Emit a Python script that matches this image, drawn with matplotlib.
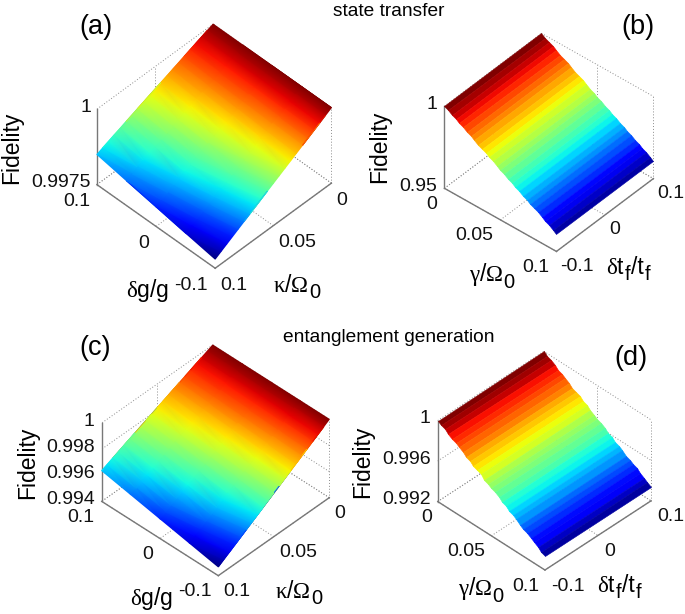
import numpy as np
import matplotlib
matplotlib.use('Agg')
import matplotlib.pyplot as plt
from mpl_toolkits.mplot3d import proj3d

plt.rcParams['font.family'] = ['Liberation Sans', 'DejaVu Sans']
plt.rcParams['mathtext.fontset'] = 'custom'
plt.rcParams['mathtext.rm'] = 'Liberation Serif'
plt.rcParams['mathtext.sf'] = 'Liberation Sans'
plt.rcParams['mathtext.default'] = 'rm'

W, H = 685, 614

################### DATA ###################
# kappa/Omega0 grid of the two smooth surfaces, step 0.005
kappa = [0.000, 0.005, 0.010, 0.015, 0.020, 0.025, 0.030, 0.035, 0.040, 0.045, 0.050,
         0.055, 0.060, 0.065, 0.070, 0.075, 0.080, 0.085, 0.090, 0.095, 0.100]
delta_g = [-0.1, -0.05, 0.0, 0.05, 0.1]

fid_a_1 = [1.00000, 0.99989, 0.99978, 0.99967, 0.99956, 0.99945, 0.99934, 0.99923, 0.99912, 0.99901, 0.99890,
           0.99879, 0.99868, 0.99857, 0.99846, 0.99835, 0.99824, 0.99813, 0.99802, 0.99791, 0.99780]
fid_a_2 = [1.00000, 0.99990, 0.99980, 0.99970, 0.99959, 0.99949, 0.99939, 0.99929, 0.99919, 0.99909, 0.99899,
           0.99888, 0.99878, 0.99868, 0.99858, 0.99848, 0.99838, 0.99827, 0.99817, 0.99807, 0.99797]
fid_a_3 = [1.00000, 0.99991, 0.99982, 0.99972, 0.99963, 0.99954, 0.99945, 0.99935, 0.99926, 0.99917, 0.99908,
           0.99898, 0.99889, 0.99880, 0.99871, 0.99861, 0.99852, 0.99843, 0.99834, 0.99824, 0.99815]
fid_a_4 = [1.00000, 0.99992, 0.99983, 0.99975, 0.99966, 0.99958, 0.99950, 0.99941, 0.99933, 0.99924, 0.99916,
           0.99908, 0.99899, 0.99891, 0.99882, 0.99874, 0.99866, 0.99857, 0.99849, 0.99840, 0.99832]
fid_a_5 = [1.00000, 0.99993, 0.99985, 0.99978, 0.99970, 0.99963, 0.99955, 0.99948, 0.99940, 0.99933, 0.99925,
           0.99918, 0.99910, 0.99903, 0.99895, 0.99888, 0.99880, 0.99873, 0.99865, 0.99858, 0.99850]

fid_c_1 = [1.00000, 0.99973, 0.99947, 0.99920, 0.99893, 0.99867, 0.99840, 0.99813, 0.99787, 0.99760, 0.99734,
           0.99707, 0.99680, 0.99654, 0.99627, 0.99600, 0.99574, 0.99547, 0.99520, 0.99494, 0.99467]
fid_c_2 = [1.00000, 0.99975, 0.99951, 0.99926, 0.99902, 0.99877, 0.99853, 0.99828, 0.99804, 0.99779, 0.99755,
           0.99730, 0.99705, 0.99681, 0.99656, 0.99632, 0.99607, 0.99583, 0.99558, 0.99534, 0.99509]
fid_c_3 = [1.00000, 0.99978, 0.99955, 0.99933, 0.99910, 0.99888, 0.99865, 0.99843, 0.99820, 0.99798, 0.99776,
           0.99753, 0.99731, 0.99708, 0.99686, 0.99663, 0.99641, 0.99618, 0.99596, 0.99573, 0.99551]
fid_c_4 = [1.00000, 0.99980, 0.99959, 0.99939, 0.99919, 0.99898, 0.99878, 0.99858, 0.99837, 0.99817, 0.99797,
           0.99776, 0.99756, 0.99736, 0.99715, 0.99695, 0.99674, 0.99654, 0.99634, 0.99613, 0.99593]
fid_c_5 = [1.00000, 0.99982, 0.99964, 0.99945, 0.99927, 0.99909, 0.99891, 0.99872, 0.99854, 0.99836, 0.99818,
           0.99799, 0.99781, 0.99763, 0.99745, 0.99726, 0.99708, 0.99690, 0.99672, 0.99653, 0.99635]

# gamma/Omega0 grid of the two banded surfaces, 31 points from 0 to 0.1
gamma = [0.0000, 0.0033, 0.0067, 0.0100, 0.0133, 0.0167, 0.0200, 0.0233, 0.0267, 0.0300, 0.0333,
         0.0367, 0.0400, 0.0433, 0.0467, 0.0500, 0.0533, 0.0567, 0.0600, 0.0633, 0.0667,
         0.0700, 0.0733, 0.0767, 0.0800, 0.0833, 0.0867, 0.0900, 0.0933, 0.0967, 0.1000]
delta_t = [-0.1, 0.1]

fid_b = [1.0000, 0.9987, 0.9974, 0.9961, 0.9948, 0.9935, 0.9921, 0.9908, 0.9895, 0.9882, 0.9869,
         0.9856, 0.9843, 0.9830, 0.9817, 0.9804, 0.9790, 0.9777, 0.9764, 0.9751, 0.9738,
         0.9725, 0.9712, 0.9699, 0.9686, 0.9673, 0.9659, 0.9646, 0.9633, 0.9620, 0.9607]
fid_d = [1.0000, 0.9998, 0.9996, 0.9993, 0.9991, 0.9989, 0.9987, 0.9985, 0.9982, 0.9980, 0.9978,
         0.9976, 0.9974, 0.9971, 0.9969, 0.9967, 0.9965, 0.9963, 0.9960, 0.9958, 0.9956,
         0.9954, 0.9952, 0.9949, 0.9947, 0.9945, 0.9943, 0.9941, 0.9938, 0.9936, 0.9934]

# tick values and labels
rate_ticks = [0, 0.05, 0.1]
rate_labels = ['0', '0.05', '0.1']
dev_ticks = [-0.1, 0, 0.1]
dev_labels = ['-0.1', '0', '0.1']

z_ticks_a = [0.9975, 1]
z_labels_a = ['0.9975', '1']
z_ticks_b = [0.95, 1]
z_labels_b = ['0.95', '1']
z_ticks_c = [0.994, 0.996, 0.998, 1]
z_labels_c = ['0.994', '0.996', '0.998', '1']
z_ticks_d = [0.992, 0.996, 1]
z_labels_d = ['0.992', '0.996', '1']

# axis labels as (text, is subscript) pieces
kappa_label = [(r'$\kappa$/$\Omega$', False), ('0', True)]
gamma_label = [(r'$\gamma$/$\Omega$', False), ('0', True)]
dg_label = [(r'$\delta$g/g', False)]
dt_label = [(r'$\delta$t', False), ('f', True), ('/t', False), ('f', True)]
############## END: DATA ###################

GRID_COLOR = '#8c8c8c'
AXIS_COLOR = '#787878'
TICK_SIZE = 14
LABEL_SIZE = 16.5
SUB_SIZE = 14.5
LETTER_SIZE = 19.5
TITLE_SIZE = 13.8


# Projected data points in picture pixels (y going down)
def to_px(ax, xs, ys, zs):
    xs = np.asarray(xs, dtype=float).ravel()
    ys = np.asarray(ys, dtype=float).ravel()
    zs = np.asarray(zs, dtype=float).ravel()
    px, py, _ = proj3d.proj_transform(xs, ys, zs, ax.get_proj())
    pts = ax.transData.transform(np.column_stack([px, py]))
    return pts[:, 0], H - pts[:, 1]


# Size and shift a square 3D axes so the floor corners land on the wanted pixels
def fit_axes(ax, corners, targets):
    size = 300.0
    cx, cy = 200.0, 200.0
    for i in range(3):
        ax.set_position([cx / W, cy / H, size / W, size / H])
        ax.apply_aspect()
        xs, ys = to_px(ax, *zip(*corners))
        size *= (max(targets[0]) - min(targets[0])) / (xs.max() - xs.min())
        ax.set_position([cx / W, cy / H, size / W, size / H])
        ax.apply_aspect()
        xs, ys = to_px(ax, *zip(*corners))
        cx += np.mean(targets[0]) - xs.mean()
        cy -= np.mean(targets[1]) - ys.mean()
    ax.set_position([cx / W, cy / H, size / W, size / H])
    ax.apply_aspect()


def draw_box(ax, zlim, xticks, yticks, zticks, left):
    grid = dict(color=GRID_COLOR, lw=0.7, ls=(0, (1, 2)), clip_on=False)
    solid = dict(color=AXIS_COLOR, lw=1.0, clip_on=False)
    zmin, zmax = zlim
    # floor, and the two back walls at x=0 and y=0.1
    for t in xticks:
        ax.plot([t, t], [-0.1, 0.1], [zmin, zmin], **grid)
        ax.plot([t, t], [0.1, 0.1], [zmin, zmax], **grid)
    for t in yticks:
        ax.plot([0, 0.1], [t, t], [zmin, zmin], **grid)
        ax.plot([0, 0], [t, t], [zmin, zmax], **grid)
    for t in zticks:
        ax.plot([0, 0], [-0.1, 0.1], [t, t], **grid)
        ax.plot([0, 0.1], [0.1, 0.1], [t, t], **grid)
    # solid front edges and the z axis
    ax.plot([0, 0.1], [-0.1, -0.1], [zmin, zmin], **solid)
    ax.plot([0.1, 0.1], [-0.1, 0.1], [zmin, zmin], **solid)
    ax.plot([left[0], left[0]], [left[1], left[1]], [zmin, zmax], **solid)


def tick_text(ax, over, xs, ys, zs, labels, ha, dx, dy):
    px, py = to_px(ax, xs, ys, zs)
    for x, y, s in zip(px, py, labels):
        over.text(x + dx, y + dy, s, ha=ha, va='center', fontsize=TICK_SIZE, color='#111111')


# Axis label with full-looking subscripts, centred on x
def axis_label(over, x, y, pieces):
    renderer = fig.canvas.get_renderer()
    parts = []
    cur = 0
    for s, is_sub in pieces:
        t = over.text(cur, y + (7 if is_sub else 0), s, ha='left', va='center',
                      fontsize=SUB_SIZE if is_sub else LABEL_SIZE)
        parts.append((t, cur))
        cur += t.get_window_extent(renderer).width + 0.5
    for t, start in parts:
        t.set_x(x - cur / 2 + start)


fig = plt.figure(figsize=(W / 100, H / 100), dpi=100)
over = fig.add_axes([0, 0, 1, 1], zorder=5)
over.set_axis_off()
over.patch.set_alpha(0)
over.set_autoscale_on(False)
over.set_xlim(0, W)
over.set_ylim(H, 0)


def make_panel(xlim, zlim, azim, elev, height, left, right, targets):
    ax = fig.add_axes([0.2, 0.2, 0.4, 0.4], projection='3d', proj_type='ortho')
    ax.set_axis_off()
    ax.patch.set_alpha(0)
    ax.set_xlim(*xlim)
    ax.set_ylim(-0.1, 0.1)
    ax.set_zlim(*zlim)
    ax.view_init(elev=elev, azim=azim)
    ax.set_box_aspect((1, 1, height))
    corners = [(0.1, -0.1, zlim[0]), left, right]
    fit_axes(ax, corners, targets)
    return ax


def smooth_surface(ax, columns):
    kk, gg = np.meshgrid(kappa, delta_g, indexing='ij')
    ff = np.column_stack(columns)
    px, py = to_px(ax, kk, gg, ff)
    over.tripcolor(px, py, ff.ravel(), shading='gouraud', cmap='jet', vmin=ff.min(), vmax=ff.max())


def banded_surface(ax, values):
    gg, tt = np.meshgrid(gamma, delta_t, indexing='ij')
    ff = np.column_stack([values, values])
    px, py = to_px(ax, gg, tt, ff)
    over.pcolormesh(px.reshape(gg.shape), py.reshape(gg.shape), ff[:-1, :-1], shading='flat',
                    cmap='jet', vmin=ff.min(), vmax=ff.max(),
                    edgecolors='face', linewidth=0.4, antialiased=True)


# (a) state transfer, cavity decay
zlim = (0.9975, 1)
ax = make_panel((0.1, 0), zlim, 224.5, 46, 0.655, (0.1, 0.1, zlim[0]), (0, -0.1, zlim[0]),
                ([215, 97, 331.5], [269, 184, 183]))
draw_box(ax, zlim, rate_ticks, dev_ticks, z_ticks_a, (0.1, 0.1))
smooth_surface(ax, [fid_a_1, fid_a_2, fid_a_3, fid_a_4, fid_a_5])
tick_text(ax, over, rate_ticks, [-0.1] * 3, [zlim[0]] * 3, rate_labels, 'left', 5, 17)
tick_text(ax, over, [0.1] * 3, dev_ticks, [zlim[0]] * 3, dev_labels, 'right', -7, 17)
tick_text(ax, over, [0.1] * 2, [0.1] * 2, z_ticks_a, z_labels_a, 'right', -6, -2)
over.text(12, 148, 'Fidelity', rotation=90, ha='center', va='center', fontsize=LABEL_SIZE)
axis_label(over, 148, 290, dg_label)
axis_label(over, 297, 285, kappa_label)
over.text(96, 27, '(a)', ha='center', va='center', fontsize=LETTER_SIZE)

# (b) state transfer, atomic decay
zlim = (0.95, 1)
ax = make_panel((0, 0.1), zlim, -49.1, 40.6, 0.73, (0, -0.1, zlim[0]), (0.1, 0.1, zlim[0]),
                ([556.7, 444.3, 653.3], [251.7, 188.3, 178.3]))
draw_box(ax, zlim, rate_ticks, dev_ticks, z_ticks_b, (0, -0.1))
banded_surface(ax, fid_b)
tick_text(ax, over, rate_ticks, [-0.1] * 3, [zlim[0]] * 3, rate_labels, 'right', -7, 16)
tick_text(ax, over, [0.1] * 3, dev_ticks, [zlim[0]] * 3, dev_labels, 'left', 4, 15)
tick_text(ax, over, [0] * 2, [-0.1] * 2, z_ticks_b, z_labels_b, 'right', -7, -2)
over.text(380, 147, 'Fidelity', rotation=90, ha='center', va='center', fontsize=LABEL_SIZE)
axis_label(over, 492, 275, gamma_label)
axis_label(over, 628, 267, dt_label)
over.text(638, 27, '(b)', ha='center', va='center', fontsize=LETTER_SIZE)

# (c) entanglement generation, cavity decay
zlim = (0.994, 1)
ax = make_panel((0.1, 0), zlim, 223.6, 42, 0.655, (0.1, 0.1, zlim[0]), (0, -0.1, zlim[0]),
                ([218.3, 101.7, 329.3], [575.7, 501.7, 497.3]))
draw_box(ax, zlim, rate_ticks, dev_ticks, z_ticks_c, (0.1, 0.1))
smooth_surface(ax, [fid_c_1, fid_c_2, fid_c_3, fid_c_4, fid_c_5])
tick_text(ax, over, rate_ticks, [-0.1] * 3, [zlim[0]] * 3, rate_labels, 'left', 5, 16)
tick_text(ax, over, [0.1] * 3, dev_ticks, [zlim[0]] * 3, dev_labels, 'right', -7, 16)
tick_text(ax, over, [0.1] * 4, [0.1] * 4, z_ticks_c, z_labels_c, 'right', -7, -2)
over.text(28, 463, 'Fidelity', rotation=90, ha='center', va='center', fontsize=LABEL_SIZE)
axis_label(over, 152, 598, dg_label)
axis_label(over, 299, 592, kappa_label)
over.text(95, 348, '(c)', ha='center', va='center', fontsize=LETTER_SIZE)

# (d) entanglement generation, atomic decay
zlim = (0.992, 1)
ax = make_panel((0, 0.1), zlim, -45.3, 40.2, 0.703, (0, -0.1, zlim[0]), (0.1, 0.1, zlim[0]),
                ([545, 437.7, 651], [570, 501.7, 500.7]))
draw_box(ax, zlim, rate_ticks, dev_ticks, z_ticks_d, (0, -0.1))
banded_surface(ax, fid_d)
tick_text(ax, over, rate_ticks, [-0.1] * 3, [zlim[0]] * 3, rate_labels, 'right', -6, 16)
tick_text(ax, over, [0.1] * 3, dev_ticks, [zlim[0]] * 3, dev_labels, 'left', 6, 16)
tick_text(ax, over, [0] * 3, [-0.1] * 3, z_ticks_d, z_labels_d, 'right', -7, -2)
over.text(363, 462, 'Fidelity', rotation=90, ha='center', va='center', fontsize=LABEL_SIZE)
axis_label(over, 481, 589, gamma_label)
axis_label(over, 619, 586, dt_label)
over.text(631, 358, '(d)', ha='center', va='center', fontsize=LETTER_SIZE)

over.text(389, 11, 'state transfer', ha='center', va='center', fontsize=TITLE_SIZE)
over.text(389, 337, 'entanglement generation', ha='center', va='center', fontsize=TITLE_SIZE)

fig.savefig('out.png', dpi=100)
